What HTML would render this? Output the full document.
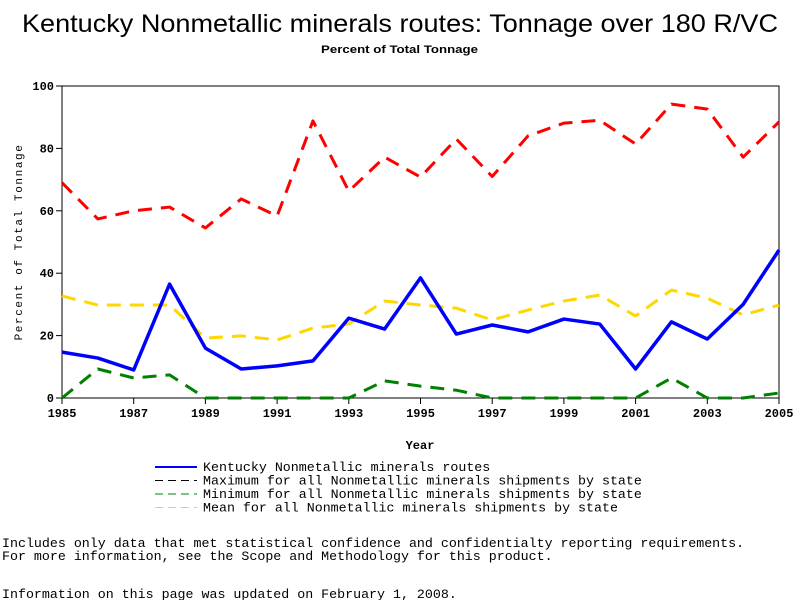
<!DOCTYPE html>
<html><head><meta charset="utf-8"><style>
body{margin:0;background:#fff;width:800px;height:600px;overflow:hidden}
svg{display:block}
text{font-family:"Liberation Mono",monospace}
</style></head><body>
<svg width="800" height="600">
<text x="22" y="32" textLength="756" lengthAdjust="spacingAndGlyphs" style="font-family:'Liberation Sans',sans-serif" font-size="25">Kentucky Nonmetallic minerals routes: Tonnage over 180 R/VC</text>
<text x="321" y="53" textLength="157" lengthAdjust="spacingAndGlyphs" style="font-family:'Liberation Sans',sans-serif;font-weight:bold" font-size="11">Percent of Total Tonnage</text>
<g id="plot"></g>
<text x="420" y="449" text-anchor="middle" font-size="12" font-weight="bold">Year</text>
<text transform="translate(22,242) rotate(-90)" text-anchor="middle" font-size="11" letter-spacing="1.6">Percent of Total Tonnage</text>
<g id="legend" font-size="13.3"></g>
<text x="2" y="547" font-size="13.3">Includes only data that met statistical confidence and confidentialty reporting requirements.</text>
<text x="2" y="560" font-size="13.3">For more information, see the Scope and Methodology for this product.</text>
<text x="2" y="598" font-size="13.3">Information on this page was updated on February 1, 2008.</text>
</svg>
<script>
const years=[1985,1986,1987,1988,1989,1990,1991,1992,1993,1994,1995,1996,1997,1998,1999,2000,2001,2002,2003,2004,2005];
const kentucky=[14.7,12.8,9,36.5,16,9.3,10.3,11.9,25.6,22.1,38.5,20.5,23.4,21.2,25.3,23.7,9.3,24.4,18.9,30,47.4];
const maximum=[69,57.4,60,61.2,54.5,63.8,58.3,88.8,66.3,77.2,70.8,83,71,84,88.1,89,81.4,94.2,92.6,77.2,88.5];
const minimum=[0,9.3,6.4,7.4,0,0,0,0,0,5.5,3.8,2.5,0,0,0,0,0,6.4,0,0,1.6];
const mean=[32.7,29.8,29.8,29.8,19.2,19.9,18.6,22.4,23.7,31.1,29.8,28.8,25,28.2,31.1,33,26.3,34.6,32,26.6,29.8];
const yTicks=[0,20,40,60,80,100];
const xTicks=[1985,1987,1989,1991,1993,1995,1997,1999,2001,2003,2005];
const NS="http://www.w3.org/2000/svg";
const X0=62,X1=779,Y0=398,Y1=86;
const xs=v=>X0+(v-1985)/(2005-1985)*(X1-X0);
const ys=v=>Y0-v/100*(Y0-Y1);
const plot=document.getElementById('plot');
function mk(t,a,p){const e=document.createElementNS(NS,t);for(const k in a)e.setAttribute(k,a[k]);(p||plot).appendChild(e);return e;}
const frame=mk('rect',{x:X0,y:Y1,width:X1-X0,height:Y0-Y1,fill:'none',stroke:'#000','stroke-width':1});


yTicks.forEach(v=>{
 const l=mk('line',{x1:X0-6,x2:X0,y1:ys(v),y2:ys(v),stroke:'#000'});
 
 
 const t=mk('text',{x:X0-8,y:ys(v)+4,'text-anchor':'end','font-size':'12','font-weight':'bold'});t.textContent=v;
 
 
});
xTicks.forEach(v=>{
 const l=mk('line',{x1:xs(v),x2:xs(v),y1:Y0,y2:Y0+6,stroke:'#000'});
 
 
 const t=mk('text',{x:xs(v),y:Y0+19,'text-anchor':'middle','font-size':'12','font-weight':'bold'});t.textContent=v;
 
 
});
const series=[
 {d:maximum,c:'#ff0000',w:3,dash:'14 9',n:'maximum-line'},
 {d:mean,c:'#ffd700',w:3,dash:'14 9',n:'mean-line'},
 {d:minimum,c:'#008000',w:3,dash:'14 9',n:'minimum-line'},
 {d:kentucky,c:'#0000ff',w:3.5,dash:'',n:'kentucky-line'}
];
series.forEach(s=>{
 const p=mk('polyline',{points:s.d.map((v,i)=>xs(years[i])+','+ys(v)).join(' '),fill:'none',stroke:s.c,'stroke-width':s.w,'stroke-dasharray':s.dash,'stroke-linejoin':'round'});
 
 
});
const leg=document.getElementById('legend');
const entries=[
 ['Kentucky Nonmetallic minerals routes','#0000ff',''],
 ['Maximum for all Nonmetallic minerals shipments by state','#000','8 5'],
 ['Minimum for all Nonmetallic minerals shipments by state','#008000','8 5'],
 ['Mean for all Nonmetallic minerals shipments by state','#ccc','8 5']
];
entries.forEach((e,i)=>{
 const y=467+i*13.5;
 const l=mk('line',{x1:155,x2:197,y1:y,y2:y,stroke:e[1],'stroke-width':i==0?2:1,'stroke-dasharray':e[2]},leg);
 
 
 const t=mk('text',{x:203,y:y+4},leg);t.textContent=e[0];
 
 
});
</script>
</body></html>
